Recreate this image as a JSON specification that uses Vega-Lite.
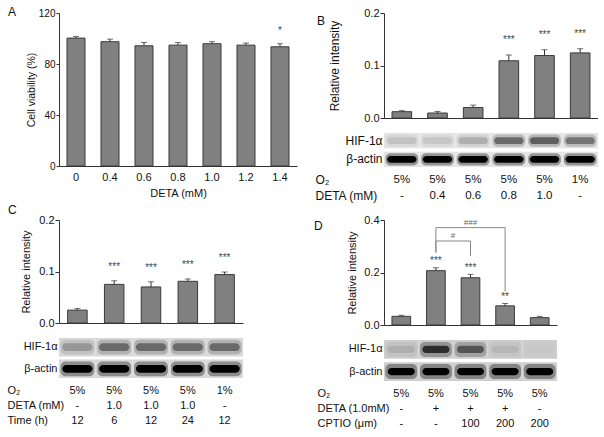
{
  "$schema": "https://vega.github.io/schema/vega-lite/v6.json",
  "padding": {"left": 7, "top": 5, "right": 0, "bottom": 0},
  "background": "white",
  "config": {
    "font": "Liberation Sans",
    "view": {"stroke": null},
    "axis": {"grid": false, "domainColor": "#333", "tickColor": "#333", "labelColor": "#111", "titleColor": "#111", "labelFontSize": 11, "titleFontSize": 11, "titleFontWeight": "normal", "labelFont": "Liberation Sans", "titleFont": "Liberation Sans"},
    "title": {"fontSize": 12, "fontWeight": "normal", "anchor": "start", "frame": "group", "baseline": "middle", "offset": 0, "color": "#111", "font": "Liberation Sans"},
    "text": {"font": "Liberation Sans"}
  },
  "datasets": {
    "A": [
      {"dose": "0", "mean": 100.3, "hi": 101.6, "sig": ""},
      {"dose": "0.4", "mean": 97.5, "hi": 99.5, "sig": ""},
      {"dose": "0.6", "mean": 94.3, "hi": 96.9, "sig": ""},
      {"dose": "0.8", "mean": 94.8, "hi": 96.8, "sig": ""},
      {"dose": "1.0", "mean": 95.9, "hi": 97.5, "sig": ""},
      {"dose": "1.2", "mean": 94.8, "hi": 96.4, "sig": ""},
      {"dose": "1.4", "mean": 93.5, "hi": 95.9, "sig": "*"}
    ],
    "B": [
      {"lane": "1", "mean": 0.012, "hi": 0.014, "sig": ""},
      {"lane": "2", "mean": 0.0095, "hi": 0.0125, "sig": ""},
      {"lane": "3", "mean": 0.020, "hi": 0.0245, "sig": ""},
      {"lane": "4", "mean": 0.109, "hi": 0.120, "sig": "***"},
      {"lane": "5", "mean": 0.119, "hi": 0.130, "sig": "***"},
      {"lane": "6", "mean": 0.124, "hi": 0.132, "sig": "***"}
    ],
    "C": [
      {"lane": "1", "mean": 0.025, "hi": 0.028, "sig": ""},
      {"lane": "2", "mean": 0.075, "hi": 0.082, "sig": "***"},
      {"lane": "3", "mean": 0.070, "hi": 0.080, "sig": "***"},
      {"lane": "4", "mean": 0.081, "hi": 0.0855, "sig": "***"},
      {"lane": "5", "mean": 0.094, "hi": 0.099, "sig": "***"}
    ],
    "D": [
      {"lane": "1", "mean": 0.033, "hi": 0.037, "sig": ""},
      {"lane": "2", "mean": 0.207, "hi": 0.218, "sig": "***"},
      {"lane": "3", "mean": 0.180, "hi": 0.193, "sig": "***"},
      {"lane": "4", "mean": 0.073, "hi": 0.082, "sig": "**"},
      {"lane": "5", "mean": 0.028, "hi": 0.033, "sig": ""}
    ],
    "Dbr": [
      {"k": "h", "a": "2", "b": "4", "y": 0.371, "y2": 0.371},
      {"k": "v", "a": "2", "b": "2", "y": 0.371, "y2": 0.276},
      {"k": "v", "a": "4", "b": "4", "y": 0.371, "y2": 0.127},
      {"k": "h", "a": "2", "b": "3", "y": 0.32, "y2": 0.32},
      {"k": "v", "a": "2", "b": "2", "y": 0.32, "y2": 0.276},
      {"k": "v", "a": "3", "b": "3", "y": 0.32, "y2": 0.263}
    ],
    "Dlab": [
      {"lane": "3", "y": 0.39, "t": "###", "k": "outer"},
      {"lane": "2", "y": 0.34, "t": "#", "k": "inner"}
    ],
    "Bblot": [
      {"lane": "1", "protein": "HIF-1α", "v": 0.12},
      {"lane": "2", "protein": "HIF-1α", "v": 0.1},
      {"lane": "3", "protein": "HIF-1α", "v": 0.2},
      {"lane": "4", "protein": "HIF-1α", "v": 0.5},
      {"lane": "5", "protein": "HIF-1α", "v": 0.55},
      {"lane": "6", "protein": "HIF-1α", "v": 0.45},
      {"lane": "1", "protein": "β-actin", "v": 1},
      {"lane": "2", "protein": "β-actin", "v": 1},
      {"lane": "3", "protein": "β-actin", "v": 1},
      {"lane": "4", "protein": "β-actin", "v": 1},
      {"lane": "5", "protein": "β-actin", "v": 1},
      {"lane": "6", "protein": "β-actin", "v": 1}
    ],
    "Cblot": [
      {"lane": "1", "protein": "HIF-1α", "v": 0.3},
      {"lane": "2", "protein": "HIF-1α", "v": 0.5},
      {"lane": "3", "protein": "HIF-1α", "v": 0.5},
      {"lane": "4", "protein": "HIF-1α", "v": 0.5},
      {"lane": "5", "protein": "HIF-1α", "v": 0.5},
      {"lane": "1", "protein": "β-actin", "v": 1},
      {"lane": "2", "protein": "β-actin", "v": 1},
      {"lane": "3", "protein": "β-actin", "v": 1},
      {"lane": "4", "protein": "β-actin", "v": 1},
      {"lane": "5", "protein": "β-actin", "v": 1}
    ],
    "Dblot": [
      {"lane": "1", "protein": "HIF-1α", "v": 0.2},
      {"lane": "2", "protein": "HIF-1α", "v": 0.8},
      {"lane": "3", "protein": "HIF-1α", "v": 0.6},
      {"lane": "4", "protein": "HIF-1α", "v": 0.17},
      {"lane": "5", "protein": "HIF-1α", "v": 0.1},
      {"lane": "1", "protein": "β-actin", "v": 1},
      {"lane": "2", "protein": "β-actin", "v": 1},
      {"lane": "3", "protein": "β-actin", "v": 1},
      {"lane": "4", "protein": "β-actin", "v": 1},
      {"lane": "5", "protein": "β-actin", "v": 1}
    ],
    "Btab": [
      {"lane": "1", "row": "O₂", "val": "5%"},
      {"lane": "2", "row": "O₂", "val": "5%"},
      {"lane": "3", "row": "O₂", "val": "5%"},
      {"lane": "4", "row": "O₂", "val": "5%"},
      {"lane": "5", "row": "O₂", "val": "5%"},
      {"lane": "6", "row": "O₂", "val": "1%"},
      {"lane": "1", "row": "DETA (mM)", "val": "-"},
      {"lane": "2", "row": "DETA (mM)", "val": "0.4"},
      {"lane": "3", "row": "DETA (mM)", "val": "0.6"},
      {"lane": "4", "row": "DETA (mM)", "val": "0.8"},
      {"lane": "5", "row": "DETA (mM)", "val": "1.0"},
      {"lane": "6", "row": "DETA (mM)", "val": "-"}
    ],
    "Ctab": [
      {"lane": "1", "row": "O₂", "val": "5%"},
      {"lane": "2", "row": "O₂", "val": "5%"},
      {"lane": "3", "row": "O₂", "val": "5%"},
      {"lane": "4", "row": "O₂", "val": "5%"},
      {"lane": "5", "row": "O₂", "val": "1%"},
      {"lane": "1", "row": "DETA (mM)", "val": "-"},
      {"lane": "2", "row": "DETA (mM)", "val": "1.0"},
      {"lane": "3", "row": "DETA (mM)", "val": "1.0"},
      {"lane": "4", "row": "DETA (mM)", "val": "1.0"},
      {"lane": "5", "row": "DETA (mM)", "val": "-"},
      {"lane": "1", "row": "Time (h)", "val": "12"},
      {"lane": "2", "row": "Time (h)", "val": "6"},
      {"lane": "3", "row": "Time (h)", "val": "12"},
      {"lane": "4", "row": "Time (h)", "val": "24"},
      {"lane": "5", "row": "Time (h)", "val": "12"}
    ],
    "Dtab": [
      {"lane": "1", "row": "O₂", "val": "5%"},
      {"lane": "2", "row": "O₂", "val": "5%"},
      {"lane": "3", "row": "O₂", "val": "5%"},
      {"lane": "4", "row": "O₂", "val": "5%"},
      {"lane": "5", "row": "O₂", "val": "5%"},
      {"lane": "1", "row": "DETA (1.0mM)", "val": "-"},
      {"lane": "2", "row": "DETA (1.0mM)", "val": "+"},
      {"lane": "3", "row": "DETA (1.0mM)", "val": "+"},
      {"lane": "4", "row": "DETA (1.0mM)", "val": "+"},
      {"lane": "5", "row": "DETA (1.0mM)", "val": "-"},
      {"lane": "1", "row": "CPTIO (μm)", "val": "-"},
      {"lane": "2", "row": "CPTIO (μm)", "val": "-"},
      {"lane": "3", "row": "CPTIO (μm)", "val": "100"},
      {"lane": "4", "row": "CPTIO (μm)", "val": "200"},
      {"lane": "5", "row": "CPTIO (μm)", "val": "200"}
    ]
  },
  "spacing": 17,
  "hconcat": [
    {
      "spacing": 5,
      "vconcat": [
        {
          "width": 238, "height": 153,
          "title": {"text": "A", "dx": -51, "offset": -10.5},
          "data": {"name": "A"},
          "encoding": {"x": {"field": "dose", "type": "nominal", "scale": {"paddingInner": 0.47, "paddingOuter": 0.235}, "axis": {"title": "DETA (mM)", "labelAngle": 0, "ticks": false, "tickSize": 0, "labelPadding": 5.5, "titlePadding": 5}}},
          "layer": [
            {"mark": {"type": "bar", "color": "#808080", "stroke": "#3a3a3a", "strokeWidth": 1},
             "encoding": {"y": {"field": "mean", "type": "quantitative", "scale": {"domain": [0, 120], "nice": false}, "axis": {"values": [0, 40, 80, 120], "title": "Cell viability (%)", "tickSize": 3, "labelPadding": 1, "titlePadding": 2, "labelFontSize": 10, "titleFontSize": 10.5}}}},
            {"mark": {"type": "rule", "color": "#333"}, "encoding": {"y": {"field": "mean", "type": "quantitative"}, "y2": {"field": "hi"}}},
            {"mark": {"type": "tick", "color": "#333", "size": 6, "thickness": 1}, "encoding": {"y": {"field": "hi", "type": "quantitative"}}},
            {"mark": {"type": "text", "dy": -13, "fontSize": 10, "color": "#444", "baseline": "middle"}, "encoding": {"y": {"field": "hi", "type": "quantitative"}, "text": {"field": "sig"}}}
          ]
        },
        {
          "width": 184, "height": 103,
          "title": {"text": "C", "dx": -51, "offset": -3.3},
          "data": {"name": "C"},
          "encoding": {"x": {"field": "lane", "type": "nominal", "scale": {"paddingInner": 0.47, "paddingOuter": 0.235}, "axis": {"labels": false, "ticks": false, "title": null, "minExtent": 10, "maxExtent": 10}}},
          "layer": [
            {"mark": {"type": "bar", "color": "#808080", "stroke": "#3a3a3a", "strokeWidth": 1},
             "encoding": {"y": {"field": "mean", "type": "quantitative", "scale": {"domain": [0, 0.2], "nice": false}, "axis": {"values": [0, 0.1, 0.2], "format": ".1f", "title": "Relative intensity", "tickSize": 4, "labelPadding": 1, "titlePadding": 7}}}},
            {"mark": {"type": "rule", "color": "#333"}, "encoding": {"y": {"field": "mean", "type": "quantitative"}, "y2": {"field": "hi"}}},
            {"mark": {"type": "tick", "color": "#333", "size": 6, "thickness": 1}, "encoding": {"y": {"field": "hi", "type": "quantitative"}}},
            {"mark": {"type": "text", "dy": -14, "fontSize": 10, "color": "#444", "baseline": "middle"}, "encoding": {"y": {"field": "hi", "type": "quantitative"}, "text": {"field": "sig"}}}
          ]
        },
        {
          "width": 184, "height": 40,
          "data": {"name": "Cblot"},
          "encoding": {
            "x": {"field": "lane", "type": "nominal", "axis": null, "scale": {"type": "band", "paddingInner": 0, "paddingOuter": 0}},
            "y": {"field": "protein", "type": "nominal", "sort": ["HIF-1α", "β-actin"], "scale": {"type": "band", "paddingInner": 0.15, "paddingOuter": 0}, "axis": {"title": null, "domain": false, "ticks": false, "tickSize": 0, "labelPadding": 2}}
          },
          "layer": [
            {"mark": {"type": "rect", "color": "#d8d8d8", "width": {"band": 1}, "height": {"band": 1}}},
            {"mark": {"type": "rect", "width": {"band": 0.92}, "height": {"band": 0.8}, "cornerRadius": 5, "opacity": 0.35}, "encoding": {"color": {"field": "v", "type": "quantitative", "scale": {"domain": [0, 1], "range": ["#e0e0e0", "#000000"]}, "legend": null}}},
            {"mark": {"type": "rect", "width": {"band": 0.82}, "height": {"band": 0.42}, "cornerRadius": 4}, "encoding": {"color": {"field": "v", "type": "quantitative", "legend": null}}}
          ]
        },
        {
          "width": 184, "height": 45,
          "data": {"name": "Ctab"},
          "mark": {"type": "text", "fontSize": 11, "color": "#111"},
          "encoding": {
            "x": {"field": "lane", "type": "nominal", "axis": null, "scale": {"type": "band", "paddingInner": 0, "paddingOuter": 0}},
            "y": {"field": "row", "type": "nominal", "sort": ["O₂", "DETA (mM)", "Time (h)"], "scale": {"type": "band", "paddingInner": 0, "paddingOuter": 0}, "axis": {"title": null, "domain": false, "ticks": false, "tickSize": 0, "labelAlign": "left", "labelPadding": 52}},
            "text": {"field": "val"}
          }
        }
      ]
    },
    {
      "spacing": 5,
      "vconcat": [
        {
          "width": 214, "height": 105,
          "title": {"text": "B", "dx": -67, "offset": -20.5},
          "data": {"name": "B"},
          "encoding": {"x": {"field": "lane", "type": "nominal", "scale": {"paddingInner": 0.45, "paddingOuter": 0.225}, "axis": {"labels": false, "ticks": false, "title": null, "minExtent": 10, "maxExtent": 10}}},
          "layer": [
            {"mark": {"type": "bar", "color": "#808080", "stroke": "#3a3a3a", "strokeWidth": 1},
             "encoding": {"y": {"field": "mean", "type": "quantitative", "scale": {"domain": [0, 0.2], "nice": false}, "axis": {"values": [0, 0.1, 0.2], "format": ".1f", "title": "Relative intensity", "tickSize": 4, "labelPadding": 1, "titlePadding": 22, "titleFontSize": 12}}}},
            {"mark": {"type": "rule", "color": "#333"}, "encoding": {"y": {"field": "mean", "type": "quantitative"}, "y2": {"field": "hi"}}},
            {"mark": {"type": "tick", "color": "#333", "size": 6, "thickness": 1}, "encoding": {"y": {"field": "hi", "type": "quantitative"}}},
            {"mark": {"type": "text", "dy": -15, "fontSize": 10, "color": "#444", "baseline": "middle"}, "encoding": {"y": {"field": "hi", "type": "quantitative"}, "text": {"field": "sig"}}}
          ]
        },
        {
          "width": 214, "height": 34,
          "data": {"name": "Bblot"},
          "encoding": {
            "x": {"field": "lane", "type": "nominal", "axis": null, "scale": {"type": "band", "paddingInner": 0, "paddingOuter": 0}},
            "y": {"field": "protein", "type": "nominal", "sort": ["HIF-1α", "β-actin"], "scale": {"type": "band", "paddingInner": 0.18, "paddingOuter": 0}, "axis": {"title": null, "domain": false, "ticks": false, "tickSize": 0, "labelPadding": 2, "labelFontSize": 12}}
          },
          "layer": [
            {"mark": {"type": "rect", "color": "#e4e4e4", "width": {"band": 1}, "height": {"band": 1}}},
            {"mark": {"type": "rect", "width": {"band": 0.92}, "height": {"band": 0.8}, "cornerRadius": 5, "opacity": 0.35}, "encoding": {"color": {"field": "v", "type": "quantitative", "legend": null}}},
            {"mark": {"type": "rect", "width": {"band": 0.82}, "height": {"band": 0.45}, "cornerRadius": 4}, "encoding": {"color": {"field": "v", "type": "quantitative", "legend": null}}}
          ]
        },
        {
          "width": 214, "height": 37,
          "data": {"name": "Btab"},
          "mark": {"type": "text", "fontSize": 11.5, "color": "#111"},
          "encoding": {
            "x": {"field": "lane", "type": "nominal", "axis": null, "scale": {"type": "band", "paddingInner": 0, "paddingOuter": 0}},
            "y": {"field": "row", "type": "nominal", "sort": ["O₂", "DETA (mM)"], "scale": {"type": "band", "paddingInner": 0, "paddingOuter": 0.15625, "align": 0}, "axis": {"title": null, "domain": false, "ticks": false, "tickSize": 0, "labelAlign": "left", "labelPadding": 69, "labelFontSize": 12}},
            "text": {"field": "val"}
          }
        },
        {
          "width": 173, "height": 105,
          "title": {"text": "D", "dx": -70, "offset": -19.2},
          "data": {"name": "D"},
          "encoding": {"x": {"field": "lane", "type": "nominal", "scale": {"paddingInner": 0.46, "paddingOuter": 0.23}, "axis": {"labels": false, "ticks": false, "title": null, "minExtent": 10, "maxExtent": 10}}},
          "layer": [
            {"mark": {"type": "bar", "color": "#808080", "stroke": "#3a3a3a", "strokeWidth": 1},
             "encoding": {"y": {"field": "mean", "type": "quantitative", "scale": {"domain": [0, 0.4], "nice": false}, "axis": {"values": [0, 0.2, 0.4], "format": ".1f", "title": "Relative intensity", "tickSize": 4, "labelPadding": 1, "titlePadding": 6}}}},
            {"mark": {"type": "rule", "color": "#333"}, "encoding": {"y": {"field": "mean", "type": "quantitative"}, "y2": {"field": "hi"}}},
            {"mark": {"type": "tick", "color": "#333", "size": 6, "thickness": 1}, "encoding": {"y": {"field": "hi", "type": "quantitative"}}},
            {"mark": {"type": "text", "dy": -6.5, "fontSize": 10, "color": "#444", "baseline": "middle"}, "encoding": {"y": {"field": "hi", "type": "quantitative"}, "text": {"field": "sig"}}},
            {"data": {"name": "Dbr"}, "transform": [{"filter": "datum.k == 'h'"}], "mark": {"type": "rule", "color": "#888"}, "encoding": {"x": {"field": "a", "type": "nominal"}, "x2": {"field": "b"}, "y": {"field": "y", "type": "quantitative"}}},
            {"data": {"name": "Dbr"}, "transform": [{"filter": "datum.k == 'v'"}], "mark": {"type": "rule", "color": "#888"}, "encoding": {"x": {"field": "a", "type": "nominal"}, "y": {"field": "y", "type": "quantitative"}, "y2": {"field": "y2"}}},
            {"data": {"name": "Dlab"}, "transform": [{"filter": "datum.k == 'outer'"}], "mark": {"type": "text", "fontSize": 8, "color": "#666", "baseline": "middle"}, "encoding": {"x": {"field": "lane", "type": "nominal"}, "y": {"field": "y", "type": "quantitative"}, "text": {"field": "t"}}},
            {"data": {"name": "Dlab"}, "transform": [{"filter": "datum.k == 'inner'"}], "mark": {"type": "text", "fontSize": 8, "color": "#666", "baseline": "middle", "dx": 17}, "encoding": {"x": {"field": "lane", "type": "nominal"}, "y": {"field": "y", "type": "quantitative"}, "text": {"field": "t"}}}
          ]
        },
        {
          "width": 173, "height": 41,
          "data": {"name": "Dblot"},
          "encoding": {
            "x": {"field": "lane", "type": "nominal", "axis": null, "scale": {"type": "band", "paddingInner": 0, "paddingOuter": 0}},
            "y": {"field": "protein", "type": "nominal", "sort": ["HIF-1α", "β-actin"], "scale": {"type": "band", "paddingInner": 0.15, "paddingOuter": 0}, "axis": {"title": null, "domain": false, "ticks": false, "tickSize": 0, "labelPadding": 2}}
          },
          "layer": [
            {"mark": {"type": "rect", "color": "#cdcdcd", "width": {"band": 1}, "height": {"band": 1}}},
            {"mark": {"type": "rect", "width": {"band": 0.92}, "height": {"band": 0.8}, "cornerRadius": 5, "opacity": 0.35}, "encoding": {"color": {"field": "v", "type": "quantitative", "legend": null}}},
            {"mark": {"type": "rect", "width": {"band": 0.78}, "height": {"band": 0.38}, "cornerRadius": 4}, "encoding": {"color": {"field": "v", "type": "quantitative", "legend": null}}}
          ]
        },
        {
          "width": 173, "height": 45,
          "data": {"name": "Dtab"},
          "mark": {"type": "text", "fontSize": 11, "color": "#111"},
          "encoding": {
            "x": {"field": "lane", "type": "nominal", "axis": null, "scale": {"type": "band", "paddingInner": 0, "paddingOuter": 0}},
            "y": {"field": "row", "type": "nominal", "sort": ["O₂", "DETA (1.0mM)", "CPTIO (μm)"], "scale": {"type": "band", "paddingInner": 0, "paddingOuter": 0}, "axis": {"title": null, "domain": false, "ticks": false, "tickSize": 0, "labelAlign": "left", "labelPadding": 67}},
            "text": {"field": "val"}
          }
        }
      ]
    }
  ]
}
